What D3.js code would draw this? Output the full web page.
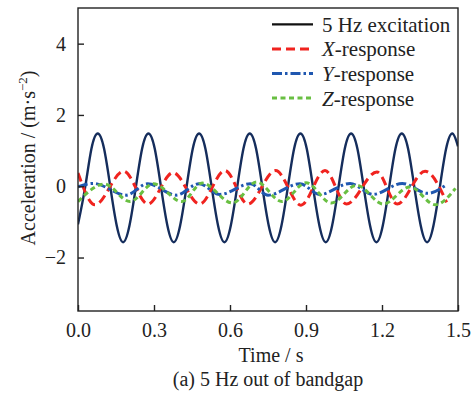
<!DOCTYPE html>
<html>
<head>
<meta charset="utf-8">
<script src="https://cdn.jsdelivr.net/npm/d3@7"></script>
<style>
  body { margin: 0; background: #fff; }
  text { font-family: "Liberation Serif", "Times New Roman", serif; fill: #222; }
</style>
</head>
<body>
<div id="chart"></div>
<script>
// 5 Hz excitation, read at peaks, troughs, zero crossings and half-way points
const excitation = [
  [0, -1.07],
  [0.028, -0.04], [0.053, 1.05], [0.078, 1.48], [0.103, 1.05], [0.128, -0.04], [0.153, -1.11], [0.178, -1.57], [0.203, -1.11],
  [0.228, -0.04], [0.253, 1.05], [0.278, 1.48], [0.303, 1.05], [0.328, -0.04], [0.353, -1.11], [0.378, -1.57], [0.403, -1.11],
  [0.428, -0.04], [0.453, 1.05], [0.478, 1.48], [0.503, 1.05], [0.528, -0.04], [0.553, -1.11], [0.578, -1.57], [0.603, -1.11],
  [0.628, -0.04], [0.653, 1.05], [0.678, 1.48], [0.703, 1.05], [0.728, -0.04], [0.753, -1.11], [0.778, -1.57], [0.803, -1.11],
  [0.828, -0.04], [0.853, 1.05], [0.878, 1.48], [0.903, 1.05], [0.928, -0.04], [0.953, -1.11], [0.978, -1.57], [1.003, -1.11],
  [1.028, -0.04], [1.053, 1.05], [1.078, 1.48], [1.103, 1.05], [1.128, -0.04], [1.153, -1.11], [1.178, -1.57], [1.203, -1.11],
  [1.228, -0.04], [1.253, 1.05], [1.278, 1.48], [1.303, 1.05], [1.328, -0.04], [1.353, -1.11], [1.378, -1.57], [1.403, -1.11],
  [1.428, -0.04], [1.453, 1.05], [1.478, 1.48], [1.5, 1.12]
];

const xResponse = [
  [0, 0.37], [0.067, -0.52], [0.18, 0.42], [0.276, -0.5], [0.375, 0.38], [0.48, -0.5],
  [0.58, 0.44], [0.67, -0.5], [0.78, 0.44], [0.88, -0.53], [0.975, 0.44], [1.06, -0.5],
  [1.18, 0.4], [1.26, -0.5], [1.37, 0.42], [1.455, -0.45]
];

const yResponse = [
  [0, -0.02], [0.06, 0.08], [0.19, -0.25], [0.275, 0.07], [0.387, -0.25], [0.478, 0.07],
  [0.56, -0.23], [0.68, 0.07], [0.75, -0.25], [0.876, 0.07], [0.955, -0.23], [1.074, 0.08],
  [1.165, -0.23], [1.28, 0.08], [1.38, -0.2], [1.45, 0.02]
];

const zResponse = [
  [0, -0.43], [0.105, 0.06], [0.205, -0.43], [0.298, 0.07], [0.41, -0.43], [0.49, 0.09],
  [0.61, -0.47], [0.705, 0.12], [0.805, -0.43], [0.9, 0.1], [1.0, -0.47], [1.1, 0.03],
  [1.205, -0.5], [1.31, -0.02], [1.41, -0.52], [1.49, -0.06]
];

const xTicks = [0, 0.3, 0.6, 0.9, 1.2, 1.5];
const yTicks = [-2, 0, 2, 4];
const legendLabels = [
  { pre: "5 Hz excitation", ital: "" },
  { pre: "", ital: "X", post: "-response" },
  { pre: "", ital: "Y", post: "-response" },
  { pre: "", ital: "Z", post: "-response" }
];

const W = 472, H = 394;
const m = { left: 78, top: 8, right: 458, bottom: 311 };

const svg = d3.select("#chart").append("svg")
  .attr("width", W).attr("height", H);

const x = d3.scaleLinear().domain([0, 1.5]).range([m.left, m.right]);
const y = d3.scaleLinear().domain([-3.5, 5]).range([m.bottom, m.top]);

svg.append("clipPath").attr("id", "clip")
  .append("rect")
  .attr("x", m.left).attr("y", m.top)
  .attr("width", m.right - m.left).attr("height", m.bottom - m.top);

// series
const series = [
  { data: excitation, color: "#152d5c", width: 2.4, dash: null, curve: d3.curveNatural },
  { data: xResponse, color: "#f0231f", width: 3, dash: "9,5", curve: d3.curveMonotoneX },
  { data: yResponse, color: "#1f57b0", width: 3, dash: "10,3,2.5,3", curve: d3.curveMonotoneX },
  { data: zResponse, color: "#69bf42", width: 3, dash: "5,3.5", curve: d3.curveMonotoneX }
];

const plot = svg.append("g").attr("clip-path", "url(#clip)");
series.forEach((s) => {
  const line = d3.line()
    .x((d) => x(d[0]))
    .y((d) => y(d[1]))
    .curve(s.curve);
  plot.append("path")
    .datum(s.data)
    .attr("d", line)
    .attr("fill", "none")
    .attr("stroke", s.color)
    .attr("stroke-width", s.width)
    .attr("stroke-dasharray", s.dash);
});

// frame
svg.append("rect")
  .attr("x", m.left).attr("y", m.top)
  .attr("width", m.right - m.left).attr("height", m.bottom - m.top)
  .attr("fill", "none").attr("stroke", "#222").attr("stroke-width", 1.4);

// axes with inward ticks
const xAxis = svg.append("g")
  .attr("transform", `translate(0,${m.bottom})`)
  .call(d3.axisBottom(x).tickValues(xTicks).tickFormat(d3.format(".1f")).tickSizeInner(-6).tickSizeOuter(0).tickPadding(12));
xAxis.select(".domain").remove();
xAxis.selectAll("line").attr("stroke", "#222").attr("stroke-width", 1.4);
xAxis.selectAll("text").style("font-size", "20px").attr("fill", "#222")
  .style("font-family", "Liberation Serif");

const yAxis = svg.append("g")
  .attr("transform", `translate(${m.left},0)`)
  .call(d3.axisLeft(y).tickValues(yTicks).tickFormat(d3.format("d")).tickSizeInner(-6).tickSizeOuter(0).tickPadding(12));
yAxis.select(".domain").remove();
yAxis.selectAll("line").attr("stroke", "#222").attr("stroke-width", 1.4);
yAxis.selectAll("text").style("font-size", "20px").attr("fill", "#222")
  .style("font-family", "Liberation Serif");

// axis titles
svg.append("text")
  .attr("x", 271).attr("y", 362)
  .attr("text-anchor", "middle")
  .style("font-size", "20px")
  .text("Time / s");

const yl = svg.append("text")
  .attr("transform", "translate(35,158) rotate(-90)")
  .attr("text-anchor", "middle")
  .style("font-size", "20px");
yl.append("tspan").text("Acceleration / (m·s");
yl.append("tspan").attr("dy", -8).style("font-size", "13px").text("−2");
yl.append("tspan").attr("dy", 8).text(")");

svg.append("text")
  .attr("x", 268).attr("y", 386)
  .attr("text-anchor", "middle")
  .style("font-size", "20px")
  .text("(a) 5 Hz out of bandgap");

// legend
const legendColors = ["#111", "#f0231f", "#1f57b0", "#69bf42"];
const legend = svg.append("g");
legendLabels.forEach((l, i) => {
  const cy = 24.3 + i * 24.6;
  const s = series[i];
  legend.append("line")
    .attr("x1", 272).attr("x2", 313)
    .attr("y1", cy).attr("y2", cy)
    .attr("stroke", legendColors[i])
    .attr("stroke-width", i === 0 ? 2.2 : 3)
    .attr("stroke-dasharray", s.dash);
  const t = legend.append("text")
    .attr("x", 322).attr("y", cy + 7.4)
    .style("font-size", "21px");
  if (l.pre) t.append("tspan").text(l.pre);
  if (l.ital) {
    t.append("tspan").style("font-style", "italic").text(l.ital);
    t.append("tspan").text(l.post);
  }
});
</script>
</body>
</html>
